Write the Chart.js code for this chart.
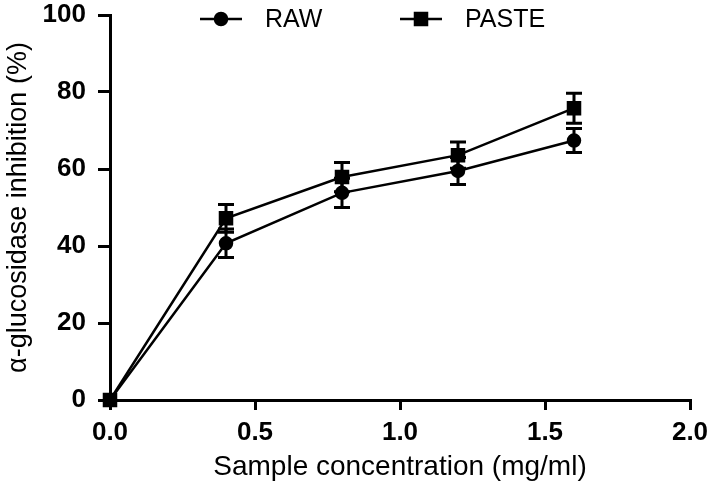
<!DOCTYPE html>
<html lang="en">
<head>
    <meta charset="UTF-8">
    <title>alpha-glucosidase inhibition</title>
    <script src="https://cdn.jsdelivr.net/npm/chart.js"></script>
    <style>
        html, body { margin: 0; padding: 0; background: #fff; }
        #wrap { width: 709px; height: 493px; }
    </style>
</head>
<body>
    <div id="wrap">
        <canvas id="myChart" width="709" height="493"></canvas>
    </div>

    <script>
        // values
        var concentration = [0, 0.4, 0.8, 1.2, 1.6];
        var rawValues = [0, 40.7, 53.8, 59.5, 67.4];
        var rawErr = [0, 3.7, 3.8, 3.5, 3.1];
        var pasteValues = [0, 47.2, 57.9, 63.6, 75.8];
        var pasteErr = [0, 3.6, 3.8, 3.4, 3.9];

        var textFont = "'Liberation Sans', Arial, sans-serif";

        function toPoints(xs, ys) {
            return xs.map((x, i) => ({ x: x, y: ys[i] }));
        }

        // error bars drawn through the scales
        var errorBars = {
            id: 'errorBars',
            afterDatasetsDraw(chart) {
                var ctx = chart.ctx;
                var xs = chart.scales.x, ys = chart.scales.y;
                ctx.save();
                ctx.strokeStyle = '#000';
                ctx.lineWidth = 3;
                chart.data.datasets.forEach(ds => {
                    ds.data.forEach((p, i) => {
                        var e = ds.errors[i];
                        if (!e) return;
                        var px = xs.getPixelForValue(p.x);
                        var top = ys.getPixelForValue(p.y + e);
                        var bot = ys.getPixelForValue(p.y - e);
                        ctx.beginPath();
                        ctx.moveTo(px, top); ctx.lineTo(px, bot);
                        ctx.moveTo(px - 8, top); ctx.lineTo(px + 8, top);
                        ctx.moveTo(px - 8, bot); ctx.lineTo(px + 8, bot);
                        ctx.stroke();
                    });
                });
                ctx.restore();
            }
        };

        // legend across the top of the plot
        var topLegend = {
            id: 'topLegend',
            afterDraw(chart) {
                var ctx = chart.ctx;
                var starts = [200, 400];
                ctx.save();
                chart.data.datasets.forEach((ds, i) => {
                    var x0 = starts[i], y0 = 19;
                    ctx.strokeStyle = '#000';
                    ctx.lineWidth = 2.5;
                    ctx.beginPath();
                    ctx.moveTo(x0, y0); ctx.lineTo(x0 + 42, y0);
                    ctx.stroke();
                    ctx.fillStyle = '#000';
                    Chart.helpers.drawPoint(ctx, {
                        pointStyle: ds.pointStyle, radius: ds.pointRadius,
                        borderWidth: 1, rotation: 0
                    }, x0 + 21, y0);
                    ctx.fill();
                    ctx.font = '25px ' + textFont;
                    ctx.textAlign = 'left';
                    ctx.textBaseline = 'middle';
                    ctx.fillText(ds.label, x0 + 65, y0 + 1);
                });
                ctx.restore();
            }
        };

        const ctx = document.getElementById('myChart');

        var myChart = new Chart(ctx, {
            type: 'line',
            data: {
                datasets: [{
                    label: 'RAW',
                    data: toPoints(concentration, rawValues),
                    errors: rawErr,
                    borderColor: '#000',
                    backgroundColor: '#000',
                    borderWidth: 2.5,
                    pointStyle: 'circle',
                    pointRadius: 6,
                    pointBackgroundColor: '#000',
                    clip: false
                }, {
                    label: 'PASTE',
                    data: toPoints(concentration, pasteValues),
                    errors: pasteErr,
                    borderColor: '#000',
                    backgroundColor: '#000',
                    borderWidth: 2.5,
                    pointStyle: 'rect',
                    pointRadius: 8.5,
                    pointBackgroundColor: '#000',
                    clip: false
                }]
            },
            options: {
                responsive: false,
                animation: false,
                layout: { padding: { top: 15, right: 19, left: 0, bottom: 0 } },
                plugins: {
                    legend: { display: false },
                    tooltip: { enabled: false }
                },
                scales: {
                    x: {
                        type: 'linear',
                        min: 0,
                        max: 2,
                        afterFit(scale) { scale.height = 93; scale.paddingLeft = 0; scale.paddingRight = 0; },
                        border: { display: true, color: '#000', width: 3 },
                        grid: { drawOnChartArea: false, drawTicks: true, tickLength: 10, color: '#000', lineWidth: 3 },
                        ticks: {
                            stepSize: 0.5,
                            color: '#000',
                            padding: 7,
                            maxRotation: 0,
                            font: { family: textFont, size: 26, weight: 'bold' },
                            callback: v => v.toFixed(1)
                        },
                        title: {
                            display: true,
                            text: 'Sample concentration (mg/ml)',
                            color: '#000',
                            font: { family: textFont, size: 28 },
                            padding: { top: 0, bottom: 9 }
                        }
                    },
                    y: {
                        min: 0,
                        max: 100,
                        afterFit(scale) { scale.width = 110; scale.paddingTop = 0; scale.paddingBottom = 0; },
                        border: { display: true, color: '#000', width: 3 },
                        grid: { drawOnChartArea: false, drawTicks: true, tickLength: 12, color: '#000', lineWidth: 3 },
                        ticks: {
                            stepSize: 20,
                            color: '#000',
                            padding: 12,
                            font: { family: textFont, size: 26, weight: 'bold' }
                        },
                        title: {
                            display: true,
                            text: 'α-glucosidase inhibition (%)',
                            color: '#000',
                            font: { family: textFont, size: 27 },
                            padding: { top: 2, bottom: 0 }
                        }
                    }
                }
            },
            plugins: [errorBars, topLegend]
        });
    </script>
</body>
</html>
